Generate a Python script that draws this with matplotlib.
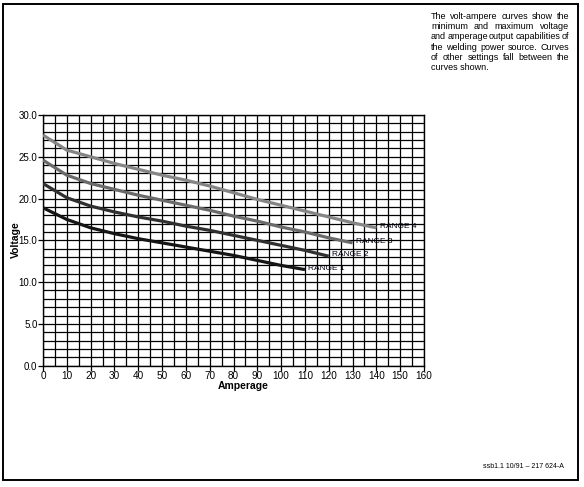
import matplotlib
matplotlib.use("Agg")
import matplotlib.pyplot as plt
from matplotlib.patches import Rectangle
import numpy as np

plt.rcParams['font.family'] = ['Liberation Sans', 'DejaVu Sans']

amps_r1 = [0, 10, 20, 30, 40, 50, 60, 70, 80, 90, 100, 110]
volts_r1 = [18.9, 17.5, 16.5, 15.8, 15.2, 14.7, 14.2, 13.7, 13.2, 12.6, 12.0, 11.5]
amps_r2 = [0, 10, 20, 30, 40, 50, 60, 70, 80, 90, 100, 110, 120]
volts_r2 = [21.8, 20.1, 19.1, 18.4, 17.8, 17.3, 16.7, 16.2, 15.6, 15.0, 14.4, 13.8, 13.1]
amps_r3 = [0, 10, 20, 30, 40, 50, 60, 70, 80, 90, 100, 110, 120, 130]
volts_r3 = [24.6, 22.8, 21.8, 21.1, 20.4, 19.8, 19.2, 18.6, 17.9, 17.3, 16.6, 16.0, 15.3, 14.7]
amps_r4 = [0, 10, 20, 30, 40, 50, 60, 70, 80, 90, 100, 110, 120, 130, 140]
volts_r4 = [27.6, 25.8, 25.0, 24.2, 23.5, 22.8, 22.2, 21.5, 20.7, 19.9, 19.2, 18.5, 17.8, 17.1, 16.5]

series_names = ["RANGE 1", "RANGE 2", "RANGE 3", "RANGE 4"]
series_colors = ["#151515", "#303030", "#6a6a6a", "#858585"]

x_ticks = list(range(0, 161, 10))
y_ticks = [0, 5, 10, 15, 20, 25, 30]
y_tick_labels = ["0.0", "5.0", "10.0", "15.0", "20.0", "25.0", "30.0"]

note_lines = ["The volt-ampere curves show the",
              "minimum and maximum voltage",
              "and amperage output capabilities of",
              "the welding power source. Curves",
              "of other settings fall between the",
              "curves shown."]
footer_text = "ssb1.1 10/91 \u2013 217 624-A"

W, H = 584, 487
fig = plt.figure(figsize=(W / 100, H / 100), dpi=100)
ax = fig.add_axes([43 / W, 1 - 365.7 / H, (424 - 43) / W, (365.7 - 115) / H])

ax.set_xlim(0, 160)
ax.set_ylim(0, 30)
ax.set_xticks(np.arange(0, 161, 5), minor=True)
ax.set_yticks(np.arange(0, 31, 1), minor=True)
ax.grid(which='both', color='black', linewidth=0.9)
ax.set_axisbelow(True)
ax.set_xticks(x_ticks)
ax.set_xticklabels([str(v) for v in x_ticks], fontsize=7.2)
ax.set_yticks(y_ticks)
ax.set_yticklabels(y_tick_labels, fontsize=7.0)
ax.tick_params(axis='both', which='major', length=3.5, width=0.9, pad=0.5)
ax.tick_params(axis='both', which='minor', length=0)
for s in ax.spines.values():
    s.set_linewidth(1.0)

all_amps = [amps_r1, amps_r2, amps_r3, amps_r4]
all_volts = [volts_r1, volts_r2, volts_r3, volts_r4]
for a, v, name, c in zip(all_amps, all_volts, series_names, series_colors):
    ax.plot(a, v, color=c, linewidth=2.3, solid_capstyle='butt', zorder=3)
    ax.annotate(name, xy=(a[-1], v[-1]), xytext=(2.5, 1), textcoords='offset points',
                fontsize=6.0, ha='left', va='center', color='#000010', zorder=4)

fig.text(15.5 / W, 1 - 240 / H, "Voltage", rotation=90, fontsize=7.5, fontweight='bold',
         ha='center', va='center')
fig.text(243 / W, 1 - 386 / H, "Amperage", fontsize=7.5, fontweight='bold',
         ha='center', va='center')

# justified note text
fig.canvas.draw()
renderer = fig.canvas.get_renderer()
note_fs = 6.45
x_left, x_right = 431.0, 569.0
y0 = 16.5
line_step = 10.2
for i, line in enumerate(note_lines):
    y = 1 - (y0 + i * line_step) / H
    words = line.split(" ")
    if i == len(note_lines) - 1:
        fig.text(x_left / W, y, line, fontsize=note_fs, ha='left', va='center')
        continue
    widths = []
    for w in words:
        t = fig.text(0, 0, w, fontsize=note_fs)
        widths.append(t.get_window_extent(renderer).width)
        t.remove()
    gap = (x_right - x_left - sum(widths)) / (len(words) - 1)
    xp = x_left
    for w, wd in zip(words, widths):
        fig.text(xp / W, y, w, fontsize=note_fs, ha='left', va='center')
        xp += wd + gap

fig.text(564 / W, 1 - 467 / H, footer_text, fontsize=5.0, ha='right', va='center')

fig.patches.append(Rectangle((2.5 / W, 1 - 480 / H), (578 - 2.5) / W, (480 - 4) / H,
                             transform=fig.transFigure, fill=False,
                             edgecolor='black', linewidth=1.4))

fig.savefig("out.png", dpi=100)
